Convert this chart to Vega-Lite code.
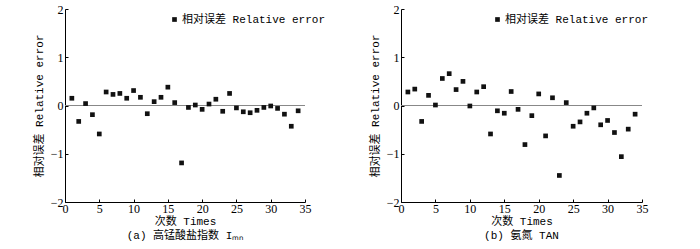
{
  "$schema": "https://vega.github.io/schema/vega-lite/v6.json",
  "padding": {"left": 33, "top": 3, "right": 5, "bottom": 2},
  "datasets": {
    "a": [
      {"t":1,"e":0.15,"s":"相对误差 Relative error"},{"t":2,"e":-0.33,"s":"相对误差 Relative error"},{"t":3,"e":0.04,"s":"相对误差 Relative error"},{"t":4,"e":-0.19,"s":"相对误差 Relative error"},{"t":5,"e":-0.59,"s":"相对误差 Relative error"},{"t":6,"e":0.28,"s":"相对误差 Relative error"},{"t":7,"e":0.23,"s":"相对误差 Relative error"},{"t":8,"e":0.25,"s":"相对误差 Relative error"},{"t":9,"e":0.15,"s":"相对误差 Relative error"},{"t":10,"e":0.31,"s":"相对误差 Relative error"},{"t":11,"e":0.17,"s":"相对误差 Relative error"},{"t":12,"e":-0.17,"s":"相对误差 Relative error"},{"t":13,"e":0.08,"s":"相对误差 Relative error"},{"t":14,"e":0.17,"s":"相对误差 Relative error"},{"t":15,"e":0.38,"s":"相对误差 Relative error"},{"t":16,"e":0.06,"s":"相对误差 Relative error"},{"t":17,"e":-1.19,"s":"相对误差 Relative error"},{"t":18,"e":-0.04,"s":"相对误差 Relative error"},{"t":19,"e":0.01,"s":"相对误差 Relative error"},{"t":20,"e":-0.08,"s":"相对误差 Relative error"},{"t":21,"e":0.03,"s":"相对误差 Relative error"},{"t":22,"e":0.13,"s":"相对误差 Relative error"},{"t":23,"e":-0.12,"s":"相对误差 Relative error"},{"t":24,"e":0.25,"s":"相对误差 Relative error"},{"t":25,"e":-0.05,"s":"相对误差 Relative error"},{"t":26,"e":-0.13,"s":"相对误差 Relative error"},{"t":27,"e":-0.15,"s":"相对误差 Relative error"},{"t":28,"e":-0.1,"s":"相对误差 Relative error"},{"t":29,"e":-0.04,"s":"相对误差 Relative error"},{"t":30,"e":-0.01,"s":"相对误差 Relative error"},{"t":31,"e":-0.06,"s":"相对误差 Relative error"},{"t":32,"e":-0.18,"s":"相对误差 Relative error"},{"t":33,"e":-0.43,"s":"相对误差 Relative error"},{"t":34,"e":-0.11,"s":"相对误差 Relative error"}
    ],
    "b": [
      {"t":1,"e":0.28,"s":"相对误差 Relative error"},{"t":2,"e":0.34,"s":"相对误差 Relative error"},{"t":3,"e":-0.33,"s":"相对误差 Relative error"},{"t":4,"e":0.21,"s":"相对误差 Relative error"},{"t":5,"e":0.01,"s":"相对误差 Relative error"},{"t":6,"e":0.56,"s":"相对误差 Relative error"},{"t":7,"e":0.66,"s":"相对误差 Relative error"},{"t":8,"e":0.33,"s":"相对误差 Relative error"},{"t":9,"e":0.5,"s":"相对误差 Relative error"},{"t":10,"e":-0.01,"s":"相对误差 Relative error"},{"t":11,"e":0.28,"s":"相对误差 Relative error"},{"t":12,"e":0.39,"s":"相对误差 Relative error"},{"t":13,"e":-0.59,"s":"相对误差 Relative error"},{"t":14,"e":-0.11,"s":"相对误差 Relative error"},{"t":15,"e":-0.16,"s":"相对误差 Relative error"},{"t":16,"e":0.29,"s":"相对误差 Relative error"},{"t":17,"e":-0.08,"s":"相对误差 Relative error"},{"t":18,"e":-0.81,"s":"相对误差 Relative error"},{"t":19,"e":-0.21,"s":"相对误差 Relative error"},{"t":20,"e":0.24,"s":"相对误差 Relative error"},{"t":21,"e":-0.63,"s":"相对误差 Relative error"},{"t":22,"e":0.16,"s":"相对误差 Relative error"},{"t":23,"e":-1.45,"s":"相对误差 Relative error"},{"t":24,"e":0.06,"s":"相对误差 Relative error"},{"t":25,"e":-0.43,"s":"相对误差 Relative error"},{"t":26,"e":-0.34,"s":"相对误差 Relative error"},{"t":27,"e":-0.16,"s":"相对误差 Relative error"},{"t":28,"e":-0.05,"s":"相对误差 Relative error"},{"t":29,"e":-0.4,"s":"相对误差 Relative error"},{"t":30,"e":-0.31,"s":"相对误差 Relative error"},{"t":31,"e":-0.56,"s":"相对误差 Relative error"},{"t":32,"e":-1.06,"s":"相对误差 Relative error"},{"t":33,"e":-0.49,"s":"相对误差 Relative error"},{"t":34,"e":-0.18,"s":"相对误差 Relative error"}
    ]
  },
  "hconcat": [
    {
      "width": 240, "height": 193,
      "title": {"text": "(a) 高锰酸盐指数 Iₘₙ", "orient": "bottom"},
      "data": {"name": "a"},
      "layer": [
        {"mark": {"type": "rule", "color": "#888888", "strokeWidth": 1}, "encoding": {"y": {"datum": 0, "type": "quantitative", "scale": {"domain": [-2, 2]}}}},
        {"mark": {"type": "point", "shape": "square", "filled": true, "size": 22, "opacity": 1},
         "encoding": {
           "x": {"field": "t", "type": "quantitative", "scale": {"domain": [0, 35], "nice": false}, "axis": {"values": [0,5,10,15,20,25,30,35], "title": "次数 Times"}},
           "y": {"field": "e", "type": "quantitative", "scale": {"domain": [-2, 2], "nice": false}, "axis": {"values": [-2,-1,0,1,2], "title": "相对误差 Relative error"}},
           "color": {"field": "s", "type": "nominal", "scale": {"range": ["#111111"]}, "legend": {"orient": "none", "legendX": 104, "legendY": 5, "title": null}},
           "shape": {"field": "s", "type": "nominal", "scale": {"range": ["square"]}, "legend": null}
         }}
      ]
    },
    {
      "width": 241, "height": 193,
      "title": {"text": "(b) 氨氮 TAN", "orient": "bottom"},
      "data": {"name": "b"},
      "layer": [
        {"mark": {"type": "rule", "color": "#888888", "strokeWidth": 1}, "encoding": {"y": {"datum": 0, "type": "quantitative", "scale": {"domain": [-2, 2]}}}},
        {"mark": {"type": "point", "shape": "square", "filled": true, "size": 22, "opacity": 1},
         "encoding": {
           "x": {"field": "t", "type": "quantitative", "scale": {"domain": [0, 35], "nice": false}, "axis": {"values": [0,5,10,15,20,25,30,35], "title": "次数 Times"}},
           "y": {"field": "e", "type": "quantitative", "scale": {"domain": [-2, 2], "nice": false}, "axis": {"values": [-2,-1,0,1,2], "title": "相对误差 Relative error"}},
           "color": {"field": "s", "type": "nominal", "scale": {"range": ["#111111"]}, "legend": {"orient": "none", "legendX": 91, "legendY": 5, "title": null}},
           "shape": {"field": "s", "type": "nominal", "scale": {"range": ["square"]}, "legend": null}
         }}
      ]
    }
  ],
  "resolve": {"scale": {"color": "independent", "shape": "independent"}, "legend": {"color": "independent"}},
  "spacing": 43,
  "config": {
    "view": {"stroke": null},
    "axis": {
      "domainColor": "#000000", "tickColor": "#000000", "grid": false,
      "labelFont": "Liberation Serif", "labelFontSize": 12, "labelColor": "#000000",
      "titleFont": "Liberation Mono, Noto Sans CJK SC", "titleFontSize": 11, "titleFontWeight": "normal", "titleColor": "#000000",
      "tickSize": -3, "labelPadding": 4
    },
    "axisX": {"titlePadding": 1, "labelFlush": false},
    "axisY": {"titlePadding": 6, "labelPadding": 5},
    "legend": {"labelFont": "Liberation Mono, Noto Sans CJK SC", "labelFontSize": 11, "labelColor": "#000000", "symbolSize": 22, "symbolType": "square", "symbolOffset": 0, "columnPadding": 2, "labelOffset": 2},
    "title": {"font": "Liberation Mono, Noto Sans CJK SC", "fontSize": 11, "fontWeight": "normal", "color": "#000000", "offset": 4, "anchor": "middle"}
  }
}
